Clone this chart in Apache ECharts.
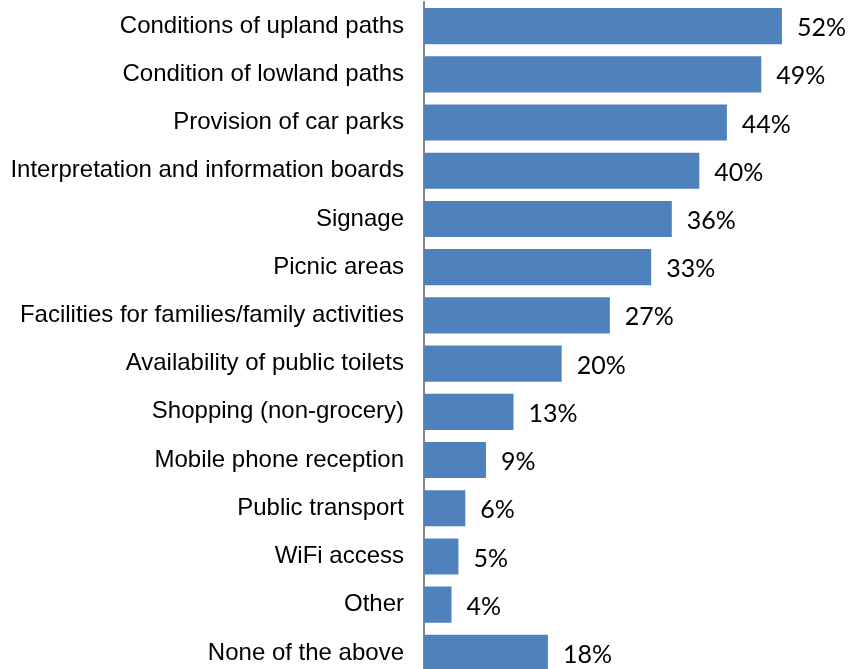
<!DOCTYPE html>
<html>
<head>
<meta charset="utf-8">
<script src="https://cdn.jsdelivr.net/npm/echarts@6/dist/echarts.min.js"></script>
<style>
  html, body { margin: 0; padding: 0; background: #ffffff; overflow: hidden; }
  /* canvas runs a few pixels past the window so the last bar is clipped at the bottom */
  #chart { width: 852px; height: 677px; }
</style>
</head>
<body>
<div id="chart"></div>
<script>
// Facilities and services visitors would like improved (% of respondents)
const categories = [
  'Conditions of upland paths',
  'Condition of lowland paths',
  'Provision of car parks',
  'Interpretation and information boards',
  'Signage',
  'Picnic areas',
  'Facilities for families/family activities',
  'Availability of public toilets',
  'Shopping (non-grocery)',
  'Mobile phone reception',
  'Public transport',
  'WiFi access',
  'Other',
  'None of the above'
];
const percentages = [52, 49, 44, 40, 36, 33, 27, 20, 13, 9, 6, 5, 4, 18];

const chart = echarts.init(document.getElementById('chart'), null, { renderer: 'canvas' });

chart.setOption({
  animation: false,
  backgroundColor: '#ffffff',
  grid: { left: 424, right: 15, top: 2, bottom: 0, containLabel: false },
  xAxis: {
    type: 'value',
    min: 0,
    max: 60,
    show: false
  },
  yAxis: {
    type: 'category',
    data: categories,
    inverse: true,
    offset: 1,
    axisLine: { show: true, lineStyle: { color: '#868686', width: 2 } },
    axisTick: { show: false },
    axisLabel: {
      margin: 19,
      color: '#000000',
      fontFamily: 'Liberation Sans, Arial, sans-serif',
      fontSize: 24,
      padding: [2, 0, 0, 0]
    }
  },
  series: [{
    type: 'bar',
    data: percentages,
    barCategoryGap: '25%',
    itemStyle: { color: '#4F81BD' },
    label: {
      show: true,
      position: 'right',
      distance: 15,
      formatter: p => p.value + '%',
      color: '#000000',
      fontFamily: 'Lato, sans-serif',
      fontSize: 25,
      offset: [0, 2]
    }
  }]
});
</script>
</body>
</html>
